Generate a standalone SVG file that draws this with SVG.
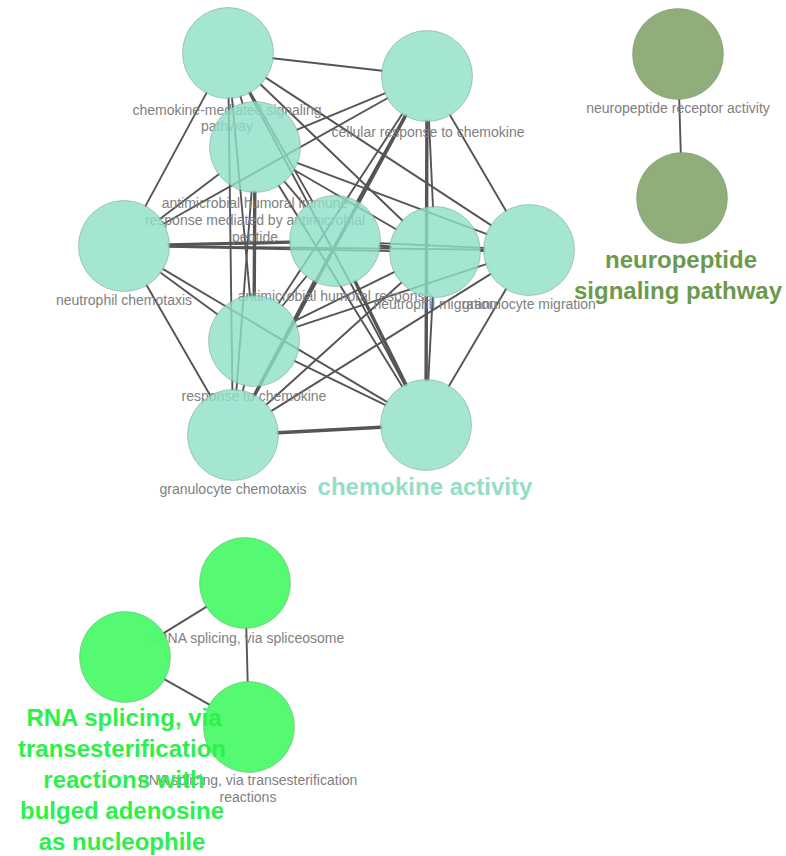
<svg xmlns="http://www.w3.org/2000/svg" width="786" height="856" viewBox="0 0 786 856">
<style>
.e{stroke:#555;stroke-width:1.9;fill:none;stroke-linecap:round}
.t{stroke-width:3.4}
.lbl{font-family:"Liberation Sans",Arial,sans-serif;font-size:14px;fill:#808080;text-anchor:middle}
.big{font-family:"Liberation Sans",Arial,sans-serif;font-size:24px;font-weight:bold;text-anchor:middle}
.teal{fill:#8fe0c8;fill-opacity:0.8;stroke:#7a9a90;stroke-width:0.7;stroke-opacity:0.7}
.olive{fill:#8fae7a;stroke:#7a8a70;stroke-width:0.7;stroke-opacity:0.6}
.lime{fill:#4cfa6a;fill-opacity:0.95;stroke:#6a9a70;stroke-width:0.7;stroke-opacity:0.6}
</style>
<rect width="786" height="856" fill="#fff"/>
<g id="connectors">
<line class="e" x1="272.7" y1="58.2" x2="382.3" y2="70.8"/>
<line class="e" x1="240.4" y1="96.2" x2="242.6" y2="103.8"/>
<line class="e" x1="206.7" y1="92.6" x2="145.3" y2="206.4"/>
<line class="e" x1="250.3" y1="92.1" x2="312.7" y2="201.9"/>
<line class="e" x1="260.4" y1="84.2" x2="402.6" y2="220.8"/>
<line class="e" x1="265.7" y1="77.6" x2="491.3" y2="225.4"/>
<line class="e" x1="232.0" y1="97.8" x2="250.0" y2="296.2"/>
<line class="e" x1="228.6" y1="98" x2="232.4" y2="390"/>
<line class="e" x1="249.1" y1="92.7" x2="404.9" y2="385.3"/>
<line class="e" x1="385.4" y1="93.2" x2="296.6" y2="129.8"/>
<line class="e" x1="387.8" y1="98.0" x2="163.2" y2="224.0"/>
<line class="e" x1="405.1" y1="115.3" x2="356.9" y2="201.7"/>
<line class="e" x1="429.0" y1="121.0" x2="433.0" y2="207.0"/>
<line class="e" x1="449.8" y1="114.8" x2="506.2" y2="211.2"/>
<line class="e" x1="402.4" y1="113.7" x2="278.6" y2="303.3"/>
<line class="e t" x1="405.6" y1="115.6" x2="254.4" y2="395.4"/>
<line class="e t" x1="426.9" y1="121" x2="426.1" y2="380"/>
<line class="e" x1="219.1" y1="174.1" x2="159.9" y2="218.9"/>
<line class="e" x1="284.2" y1="181.3" x2="305.8" y2="206.7"/>
<line class="e" x1="293.9" y1="169.7" x2="396.1" y2="229.3"/>
<line class="e" x1="297.1" y1="162.8" x2="486.9" y2="234.2"/>
<line class="e t" x1="254.8" y1="192" x2="254.2" y2="296"/>
<line class="e" x1="251.6" y1="191.9" x2="236.4" y2="390.1"/>
<line class="e" x1="278.6" y1="185.3" x2="402.4" y2="386.7"/>
<line class="e t" x1="169" y1="244.9" x2="290" y2="242.1"/>
<line class="e" x1="169" y1="246.9" x2="390" y2="251.1"/>
<line class="e" x1="169" y1="246.4" x2="484" y2="249.6"/>
<line class="e" x1="160.3" y1="272.6" x2="217.7" y2="314.4"/>
<line class="e" x1="146.5" y1="285.0" x2="210.5" y2="396"/>
<line class="e" x1="162.7" y1="268.9" x2="387.3" y2="402.1"/>
<line class="e t" x1="379.7" y1="245.9" x2="390.3" y2="247.1"/>
<line class="e" x1="380" y1="243.1" x2="484" y2="247.9"/>
<line class="e" x1="306.7" y1="276.0" x2="282.3" y2="306"/>
<line class="e" x1="314.1" y1="280.8" x2="253.9" y2="395.2"/>
<line class="e t" x1="355" y1="281.3" x2="406" y2="384.7"/>
<line class="e" x1="480" y1="251.0" x2="484" y2="251"/>
<line class="e" x1="394.6" y1="271.9" x2="294.4" y2="321.1"/>
<line class="e" x1="401.7" y1="282.2" x2="266.3" y2="404.8"/>
<line class="e" x1="432.7" y1="296.9" x2="428.3" y2="380.1"/>
<line class="e" x1="486.3" y1="264.1" x2="296.7" y2="326.9"/>
<line class="e" x1="490.8" y1="273.9" x2="271.2" y2="411.1"/>
<line class="e" x1="506.2" y1="288.8" x2="448.8" y2="386.2"/>
<line class="e" x1="244.2" y1="384.9" x2="242.8" y2="391.1"/>
<line class="e" x1="294.4" y1="360.8" x2="385.6" y2="405.2"/>
<line class="e t" x1="278" y1="432.7" x2="381" y2="427.3"/>
<line class="e" x1="679.2" y1="99" x2="680.8" y2="153"/>
<line class="e" x1="206.7" y1="606.6" x2="163.3" y2="633.4"/>
<line class="e" x1="246.3" y1="628" x2="247.7" y2="682"/>
<line class="e" x1="164.2" y1="679.1" x2="209.8" y2="704.9"/>
</g>
<g id="labels">
<text class="lbl" x="227" y="115">chemokine-mediated signaling</text>
<text class="lbl" x="227" y="131">pathway</text>
<text class="lbl" x="428" y="137">cellular response to chemokine</text>
<text class="lbl" x="255" y="208">antimicrobial humoral immune</text>
<text class="lbl" x="255" y="225">response mediated by antimicrobial</text>
<text class="lbl" x="255" y="242">peptide</text>
<text class="lbl" x="124" y="305">neutrophil chemotaxis</text>
<text class="lbl" x="335" y="301">antimicrobial humoral response</text>
<text class="lbl" x="435" y="309">neutrophil migration</text>
<text class="lbl" x="529" y="309">granulocyte migration</text>
<text class="lbl" x="254" y="401">response to chemokine</text>
<text class="lbl" x="233" y="494">granulocyte chemotaxis</text>
<text class="lbl" x="678" y="113">neuropeptide receptor activity</text>
<text class="lbl" x="245" y="643">mRNA splicing, via spliceosome</text>
<text class="lbl" x="248" y="785">RNA splicing, via transesterification</text>
<text class="lbl" x="248" y="802">reactions</text>
</g>
<g id="n1"><circle class="teal" cx="228" cy="53" r="45.5"/></g>
<g id="n2"><circle class="teal" cx="427" cy="76" r="45.5"/></g>
<g id="n3"><circle class="teal" cx="255" cy="147" r="45.5"/></g>
<g id="n4"><circle class="teal" cx="124" cy="246" r="45.5"/></g>
<g id="n5"><circle class="teal" cx="335" cy="241" r="45.5"/></g>
<g id="n6"><circle class="teal" cx="435" cy="252" r="45.5"/></g>
<g id="n7"><circle class="teal" cx="529" cy="250" r="45.5"/></g>
<g id="n8"><circle class="teal" cx="254" cy="341" r="45.5"/></g>
<g id="n9"><circle class="teal" cx="233" cy="435" r="45.5"/></g>
<g id="n10"><circle class="teal" cx="426" cy="425" r="45.5"/></g>
<g id="np1"><circle class="olive" cx="678" cy="54" r="45.5"/></g>
<g id="np2"><circle class="olive" cx="682" cy="198" r="45.5"/></g>
<g id="rs1"><circle class="lime" cx="245" cy="583" r="45.5"/></g>
<g id="rs2"><circle class="lime" cx="125" cy="657" r="45.5"/></g>
<g id="rs3"><circle class="lime" cx="249" cy="727" r="45.5"/></g>
<g id="cluster-labels">
<text class="big" x="425" y="495" fill="#93dec6">chemokine activity</text>
<text class="big" x="681" y="268" fill="#6b9a4c">neuropeptide</text>
<text class="big" x="678" y="299" fill="#6b9a4c">signaling pathway</text>
<text class="big" fill="#2cf04c"><tspan x="124" y="726">RNA splicing, via</tspan><tspan x="122" y="757">transesterification</tspan><tspan x="124" y="788">reactions with</tspan><tspan x="122" y="819">bulged adenosine</tspan><tspan x="122" y="850">as nucleophile</tspan></text>
</g>
</svg>
